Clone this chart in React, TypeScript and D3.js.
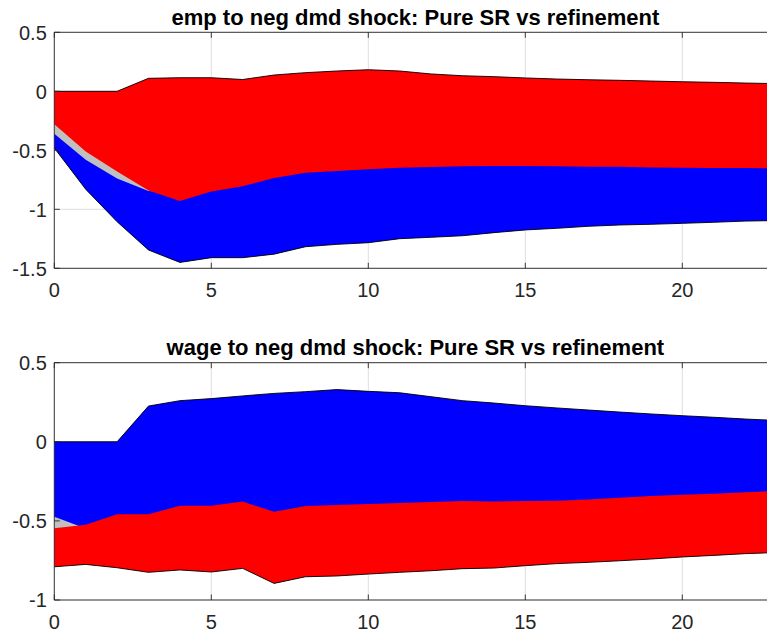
import * as d3 from "d3";
import { useEffect, useRef } from "react";

// horizons 0..23
const horizons = [0, 1, 2, 3, 4, 5, 6, 7, 8, 9, 10, 11, 12, 13, 14, 15, 16, 17, 18, 19, 20, 21, 22, 23];
const xTicks = [0, 5, 10, 15, 20];

// emp panel
const empTicks = [0.5, 0, -0.5, -1, -1.5];
const empRedUpper = [0, 0, 0, 0.11, 0.115, 0.115, 0.1, 0.138, 0.158, 0.172, 0.183, 0.172, 0.147, 0.132, 0.124, 0.113, 0.104, 0.098, 0.093, 0.087, 0.081, 0.076, 0.07, 0.065];
const empRedLower = [-0.28, -0.51, -0.68, -0.84, -0.93, -0.85, -0.805, -0.735, -0.69, -0.675, -0.66, -0.647, -0.641, -0.636, -0.633, -0.633, -0.636, -0.64, -0.64, -0.645, -0.647, -0.65, -0.65, -0.652];
const empBlueUpper = [-0.36, -0.58, -0.74, -0.845, -0.86, -0.79, -0.74, -0.68, -0.64, -0.62, -0.61, -0.6, -0.59, -0.59, -0.58, -0.58, -0.59, -0.59, -0.59, -0.6, -0.6, -0.6, -0.6, -0.6];
const empBlueLower = [-0.48, -0.83, -1.105, -1.345, -1.45, -1.41, -1.41, -1.38, -1.317, -1.297, -1.283, -1.249, -1.237, -1.224, -1.198, -1.175, -1.161, -1.144, -1.133, -1.127, -1.119, -1.11, -1.1, -1.095];

// wage panel
const wageTicks = [0.5, 0, -0.5, -1];
const wageBlueUpper = [0, 0, 0, 0.226, 0.26, 0.273, 0.29, 0.306, 0.317, 0.33, 0.319, 0.31, 0.285, 0.26, 0.245, 0.228, 0.214, 0.201, 0.188, 0.176, 0.165, 0.155, 0.144, 0.135];
const wageBlueLower = [-0.473, -0.548, -0.55, -0.54, -0.52, -0.51, -0.5, -0.5, -0.49, -0.48, -0.48, -0.47, -0.46, -0.46, -0.45, -0.45, -0.44, -0.44, -0.43, -0.43, -0.42, -0.42, -0.41, -0.41];
const wageRedUpper = [-0.547, -0.525, -0.458, -0.458, -0.404, -0.404, -0.378, -0.442, -0.406, -0.4, -0.393, -0.387, -0.381, -0.374, -0.378, -0.374, -0.372, -0.364, -0.353, -0.343, -0.334, -0.328, -0.319, -0.31];
const wageRedLower = [-0.79, -0.775, -0.796, -0.825, -0.81, -0.823, -0.8, -0.895, -0.853, -0.848, -0.836, -0.825, -0.815, -0.802, -0.798, -0.783, -0.77, -0.762, -0.752, -0.741, -0.728, -0.718, -0.707, -0.7];

const FONT = "'Liberation Sans', Arial, Helvetica, sans-serif";
const AXIS = "#262626";

type Panel = {
  title: string;
  top: number;
  bottom: number;
  yDomain: [number, number];
  yTicks: number[];
  redUp: number[];
  redLo: number[];
  blueUp: number[];
  blueLo: number[];
};

function drawPanel(root: d3.Selection<SVGSVGElement, unknown, null, undefined>, p: Panel) {
  const x = d3.scaleLinear().domain([0, 23]).range([54.3, 776.5]);
  const y = d3.scaleLinear().domain(p.yDomain).range([p.bottom, p.top]);
  const g = root.append("g");

  /* grid, behind the bands */
  g.selectAll("line.vgrid")
    .data(xTicks)
    .enter()
    .append("line")
    .attr("x1", d => x(d)).attr("x2", d => x(d))
    .attr("y1", p.top).attr("y2", p.bottom)
    .attr("stroke", "#dedede").attr("stroke-width", 1);
  g.selectAll("line.hgrid")
    .data(p.yTicks)
    .enter()
    .append("line")
    .attr("x1", x(0)).attr("x2", 767)
    .attr("y1", d => y(d)).attr("y2", d => y(d))
    .attr("stroke", "#dedede").attr("stroke-width", 1);

  /* bands: gray envelope, then blue, then red */
  const hi = horizons.map((_, i) => Math.max(p.redUp[i], p.blueUp[i]));
  const lo = horizons.map((_, i) => Math.min(p.redLo[i], p.blueLo[i]));

  const band = (up: number[], dn: number[]) =>
    d3.area<number>()
      .x(d => x(d))
      .y0((_, i) => y(dn[i]))
      .y1((_, i) => y(up[i]))(horizons);

  g.append("path").attr("d", band(hi, lo)).attr("fill", "#c0c0c0");
  g.append("path").attr("d", band(p.blueUp, p.blueLo)).attr("fill", "#0000ff");
  g.append("path").attr("d", band(p.redUp, p.redLo)).attr("fill", "#ff0000");

  const edge = (vals: number[]) =>
    d3.line<number>().x(d => x(d)).y((_, i) => y(vals[i]))(horizons);
  g.append("path").attr("d", edge(hi)).attr("fill", "none").attr("stroke", "#000").attr("stroke-width", 0.9);
  g.append("path").attr("d", edge(lo)).attr("fill", "none").attr("stroke", "#000").attr("stroke-width", 0.9);

  /* box + ticks */
  g.append("line").attr("x1", x(0)).attr("x2", 767).attr("y1", p.top).attr("y2", p.top)
    .attr("stroke", AXIS).attr("stroke-width", 0.9);
  g.append("line").attr("x1", x(0)).attr("x2", 767).attr("y1", p.bottom).attr("y2", p.bottom)
    .attr("stroke", AXIS).attr("stroke-width", 0.9);
  g.append("line").attr("x1", x(0)).attr("x2", x(0)).attr("y1", p.top).attr("y2", p.bottom)
    .attr("stroke", AXIS).attr("stroke-width", 0.9);

  const tl = 5.5;
  xTicks.forEach(t => {
    g.append("line").attr("x1", x(t)).attr("x2", x(t)).attr("y1", p.bottom).attr("y2", p.bottom - tl)
      .attr("stroke", AXIS).attr("stroke-width", 0.9);
    g.append("line").attr("x1", x(t)).attr("x2", x(t)).attr("y1", p.top).attr("y2", p.top + tl)
      .attr("stroke", AXIS).attr("stroke-width", 0.9);
  });
  p.yTicks.forEach(t => {
    g.append("line").attr("x1", x(0)).attr("x2", x(0) + tl).attr("y1", y(t)).attr("y2", y(t))
      .attr("stroke", AXIS).attr("stroke-width", 0.9);
  });

  /* tick labels */
  g.selectAll("text.xl")
    .data(xTicks)
    .enter()
    .append("text")
    .attr("x", d => x(d))
    .attr("y", p.bottom + 28.8)
    .attr("text-anchor", "middle")
    .attr("font-family", FONT)
    .attr("font-size", 20)
    .attr("fill", AXIS)
    .text(d => String(d));

  g.selectAll("text.yl")
    .data(p.yTicks)
    .enter()
    .append("text")
    .attr("x", 46.8)
    .attr("y", d => y(d))
    .attr("dy", "0.36em")
    .attr("text-anchor", "end")
    .attr("font-family", FONT)
    .attr("font-size", 20)
    .attr("fill", AXIS)
    .text(d => String(d));

  g.append("text")
    .attr("x", (x(0) + x(23)) / 2)
    .attr("y", p.top - 7.8)
    .attr("text-anchor", "middle")
    .attr("font-family", FONT)
    .attr("font-size", 22)
    .attr("font-weight", "bold")
    .attr("fill", "#000")
    .text(p.title);
}

export default function App() {
  const ref = useRef<SVGSVGElement>(null);

  useEffect(() => {
    const svg = d3.select(ref.current!);
    svg.selectAll("*").remove();

    drawPanel(svg, {
      title: "emp to neg dmd shock: Pure SR vs refinement",
      top: 32.3,
      bottom: 268.3,
      yDomain: [-1.5, 0.5],
      yTicks: empTicks,
      redUp: empRedUpper,
      redLo: empRedLower,
      blueUp: empBlueUpper,
      blueLo: empBlueLower,
    });

    drawPanel(svg, {
      title: "wage to neg dmd shock: Pure SR vs refinement",
      top: 362.7,
      bottom: 600,
      yDomain: [-1, 0.5],
      yTicks: wageTicks,
      redUp: wageRedUpper,
      redLo: wageRedLower,
      blueUp: wageBlueUpper,
      blueLo: wageBlueLower,
    });
  }, []);

  return (
    <svg
      ref={ref}
      width={767}
      height={632}
      style={{ position: "absolute", left: 0, top: 0, background: "#fff" }}
    />
  );
}
